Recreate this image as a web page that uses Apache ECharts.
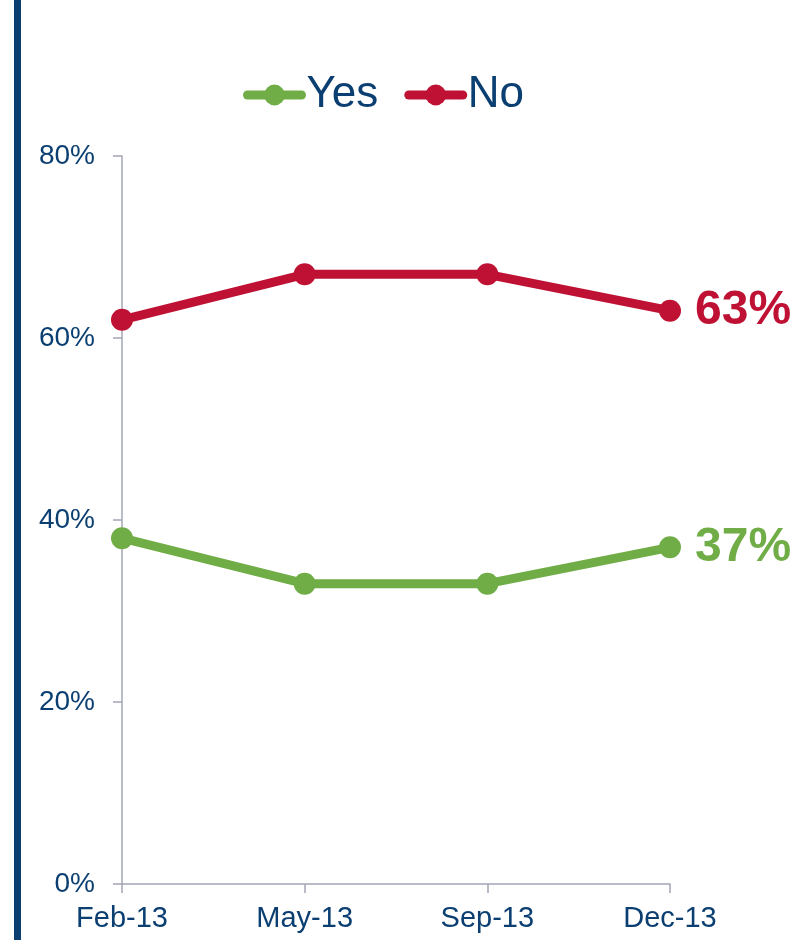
<!DOCTYPE html>
<html><head><meta charset="utf-8">
<script src="https://cdn.jsdelivr.net/npm/echarts@6/dist/echarts.min.js"></script>
<style>html,body{margin:0;padding:0;background:#fff}#c{width:797px;height:940px}</style>
</head><body><div id="c"></div>
<script>
const categories = ['Feb-13','May-13','Sep-13','Dec-13'];
const yesValues = [38, 33, 33, 37];
const noValues = [62, 67, 67, 63];
const yTicks = [0, 20, 40, 60, 80];

const green = '#70ad47', red = '#be1134', navy = '#0b3f72', axisGrey = '#a3a7b6';
const chart = echarts.init(document.getElementById('c'));
chart.setOption({
  animation: false,
  textStyle: {fontFamily: 'Liberation Sans, Arial, sans-serif'},
  graphic: [{type:'rect', shape:{x:14, y:0, width:7, height:940}, style:{fill:navy}}],
  legend: {
    left: 238, top: 68, itemWidth: 54, itemHeight: 26, itemGap: 26,
    lineStyle: {width: 9, cap: 'round'},
    textStyle: {fontSize: 44, color: navy, fontFamily: 'Liberation Sans, Arial, sans-serif'},
    data: ['Yes','No']
  },
  grid: {left: 122, right: 127, top: 156, bottom: 56, containLabel: false},
  xAxis: {
    type: 'category', data: categories, boundaryGap: false,
    axisLine: {lineStyle: {color: axisGrey, width: 1.5}},
    axisTick: {show: true, length: 9, lineStyle: {color: axisGrey, width: 1.5}},
    axisLabel: {fontSize: 29, color: navy, margin: 20}
  },
  yAxis: {
    type: 'value', min: yTicks[0], max: yTicks[yTicks.length-1], interval: 20,
    splitLine: {show: false},
    axisLine: {show: true, lineStyle: {color: axisGrey, width: 1.5}},
    axisTick: {show: true, length: 9, lineStyle: {color: axisGrey, width: 1.5}},
    axisLabel: {fontSize: 28, color: navy, margin: 27, formatter: '{value}%'}
  },
  series: [
    {name: 'Yes', type: 'line', data: yesValues, color: green,
     lineStyle: {width: 9, color: green}, symbol: 'circle', symbolSize: 22,
     itemStyle: {color: green},
     endLabel: {show: true, formatter: '{c}%', fontSize: 48, fontWeight: 'bold', color: green, distance: 25}},
    {name: 'No', type: 'line', data: noValues, color: red,
     lineStyle: {width: 9, color: red}, symbol: 'circle', symbolSize: 22,
     itemStyle: {color: red},
     endLabel: {show: true, formatter: '{c}%', fontSize: 48, fontWeight: 'bold', color: red, distance: 25}}
  ]
});
</script></body></html>
